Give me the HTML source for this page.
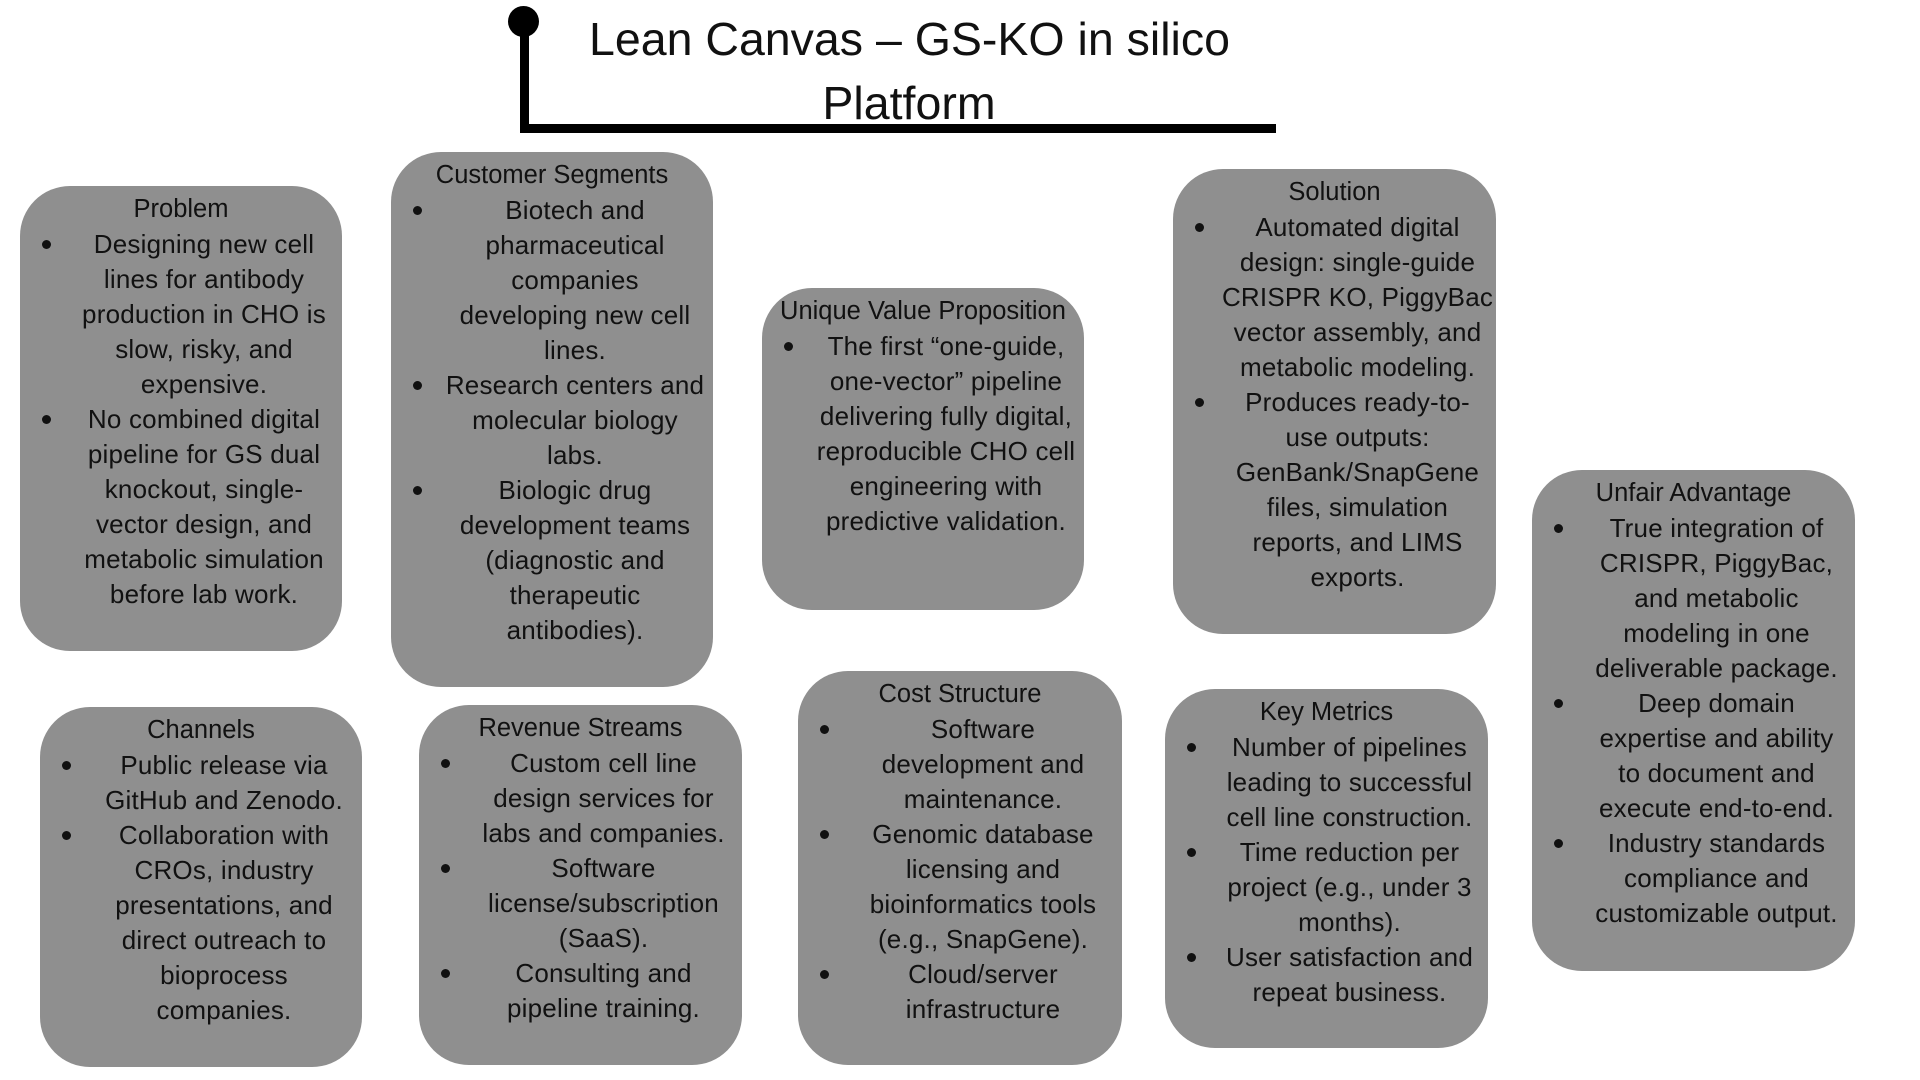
<!DOCTYPE html>
<html><head><meta charset="utf-8"><style>
html,body{margin:0;padding:0;}
body{width:1920px;height:1080px;background:#fff;position:relative;overflow:hidden;font-family:"Liberation Sans",sans-serif;color:#111;}
.box{position:absolute;background:#8f8f8f;border-radius:50px;box-sizing:border-box;}
.h{position:absolute;left:0;right:0;text-align:center;font-size:25.5px;line-height:35px;white-space:nowrap;}
.items{position:absolute;left:0;right:0;}
.it{position:relative;padding-left:48px;padding-right:2px;text-align:center;font-size:26px;line-height:35px;white-space:nowrap;letter-spacing:0.2px;}
.it:before{content:"";position:absolute;left:22px;top:13px;width:9px;height:9px;border-radius:50%;background:#111;}
.t{position:absolute;font-size:46.5px;white-space:nowrap;text-align:center;}
</style></head><body>
<div style="position:absolute;left:508px;top:6px;width:31px;height:31px;border-radius:50%;background:#000"></div>
<div style="position:absolute;left:520px;top:22px;width:9px;height:111px;background:#000"></div>
<div style="position:absolute;left:520px;top:124px;width:756px;height:9px;background:#000"></div>
<div class="t" style="left:589px;width:640px;top:12px;line-height:54px">Lean Canvas – GS-KO in silico</div>
<div class="t" style="left:589px;width:640px;top:76px;line-height:54px">Platform</div>

<div class="box" style="left:20px;top:186px;width:322px;height:465px">
<div class="h" style="top:6px">Problem</div>
<div class="items" style="top:41px">
<div class="it">Designing new cell<br>lines for antibody<br>production in CHO is<br>slow, risky, and<br>expensive.</div>
<div class="it">No combined digital<br>pipeline for GS dual<br>knockout, single-<br>vector design, and<br>metabolic simulation<br>before lab work.</div>
</div></div>

<div class="box" style="left:391px;top:152px;width:322px;height:535px">
<div class="h" style="top:6px">Customer Segments</div>
<div class="items" style="top:41px">
<div class="it">Biotech and<br>pharmaceutical<br>companies<br>developing new cell<br>lines.</div>
<div class="it">Research centers and<br>molecular biology<br>labs.</div>
<div class="it">Biologic drug<br>development teams<br>(diagnostic and<br>therapeutic<br>antibodies).</div>
</div></div>

<div class="box" style="left:762px;top:288px;width:322px;height:322px">
<div class="h" style="top:6px">Unique Value Proposition</div>
<div class="items" style="top:41px">
<div class="it">The first “one-guide,<br>one-vector” pipeline<br>delivering fully digital,<br>reproducible CHO cell<br>engineering with<br>predictive validation.</div>
</div></div>

<div class="box" style="left:1173px;top:169px;width:323px;height:465px">
<div class="h" style="top:6px">Solution</div>
<div class="items" style="top:41px">
<div class="it">Automated digital<br>design: single-guide<br>CRISPR KO, PiggyBac<br>vector assembly, and<br>metabolic modeling.</div>
<div class="it">Produces ready-to-<br>use outputs:<br>GenBank/SnapGene<br>files, simulation<br>reports, and LIMS<br>exports.</div>
</div></div>

<div class="box" style="left:1532px;top:470px;width:323px;height:501px">
<div class="h" style="top:6px">Unfair Advantage</div>
<div class="items" style="top:41px">
<div class="it">True integration of<br>CRISPR, PiggyBac,<br>and metabolic<br>modeling in one<br>deliverable package.</div>
<div class="it">Deep domain<br>expertise and ability<br>to document and<br>execute end-to-end.</div>
<div class="it">Industry standards<br>compliance and<br>customizable output.</div>
</div></div>

<div class="box" style="left:40px;top:707px;width:322px;height:360px">
<div class="h" style="top:6px">Channels</div>
<div class="items" style="top:41px">
<div class="it">Public release via<br>GitHub and Zenodo.</div>
<div class="it">Collaboration with<br>CROs, industry<br>presentations, and<br>direct outreach to<br>bioprocess<br>companies.</div>
</div></div>

<div class="box" style="left:419px;top:705px;width:323px;height:360px">
<div class="h" style="top:6px">Revenue Streams</div>
<div class="items" style="top:41px">
<div class="it">Custom cell line<br>design services for<br>labs and companies.</div>
<div class="it">Software<br>license/subscription<br>(SaaS).</div>
<div class="it">Consulting and<br>pipeline training.</div>
</div></div>

<div class="box" style="left:798px;top:671px;width:324px;height:394px">
<div class="h" style="top:6px">Cost Structure</div>
<div class="items" style="top:41px">
<div class="it">Software<br>development and<br>maintenance.</div>
<div class="it">Genomic database<br>licensing and<br>bioinformatics tools<br>(e.g., SnapGene).</div>
<div class="it">Cloud/server<br>infrastructure</div>
</div></div>

<div class="box" style="left:1165px;top:689px;width:323px;height:359px">
<div class="h" style="top:6px">Key Metrics</div>
<div class="items" style="top:41px">
<div class="it">Number of pipelines<br>leading to successful<br>cell line construction.</div>
<div class="it">Time reduction per<br>project (e.g., under 3<br>months).</div>
<div class="it">User satisfaction and<br>repeat business.</div>
</div></div>
</body></html>
